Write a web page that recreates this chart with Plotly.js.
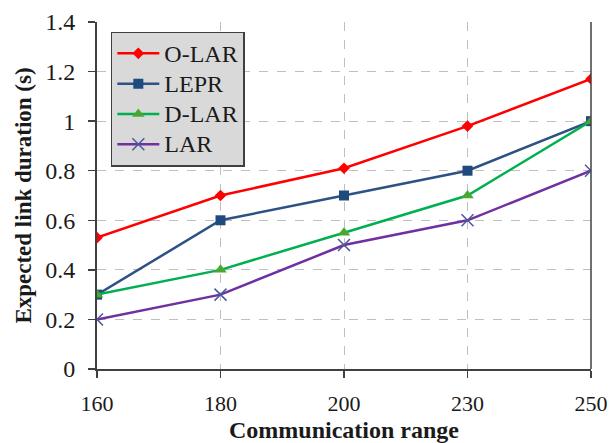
<!DOCTYPE html>
<html><head><meta charset="utf-8">
<script src="https://cdn.plot.ly/plotly-3.0.1.min.js"></script>
<style>html,body{margin:0;padding:0;background:#fff}#c{width:611px;height:443px}</style>
</head><body><div id="c"></div>
<script>
var ranges = ['160', '180', '200', '230', '250'];
var olar = [0.53, 0.70, 0.81, 0.98, 1.17];
var lepr = [0.30, 0.60, 0.70, 0.80, 1.00];
var dlar = [0.30, 0.40, 0.55, 0.70, 1.00];
var lar  = [0.20, 0.30, 0.50, 0.60, 0.80];
var yTicks = [0, 0.2, 0.4, 0.6, 0.8, 1, 1.2, 1.4];
var yTickText = ['0', '0.2', '0.4', '0.6', '0.8', '1', '1.2', '1.4'];
var names = ['O-LAR', 'LEPR', 'D-LAR', 'LAR'];

var serif = 'Liberation Serif, Times New Roman, serif';
function lbl(s) { return '<span style="font-size:24px">' + s + '</span>'; }
var traces = [
  {x: ranges, y: olar, name: lbl(names[0]), mode: 'lines+markers', line: {color: '#ff0000', width: 2.5}, marker: {symbol: 'diamond', size: 9, color: '#ff0000'}},
  {x: ranges, y: lepr, name: lbl(names[1]), mode: 'lines+markers', line: {color: '#2e5183', width: 2.5}, marker: {symbol: 'square', size: 10, color: '#1f4a7e'}},
  {x: ranges, y: dlar, name: lbl(names[2]), mode: 'lines+markers', line: {color: '#00b050', width: 2.5}, marker: {symbol: 'triangle-up', size: 11, color: '#4aa832'}},
  {x: ranges, y: lar, name: lbl(names[3]), mode: 'lines+markers', line: {color: '#7030a0', width: 2.5}, marker: {symbol: 'x-thin', size: 12, color: '#4a5a9a', line: {color: '#4a5a9a', width: 1.5}}}
];
var layout = {
  width: 611, height: 443,
  margin: {l: 97, r: 20, t: 22, b: 74},
  paper_bgcolor: '#fff', plot_bgcolor: '#fff',
  font: {family: serif, color: '#1a1a1a', size: 22},
  showlegend: true,
  legend: {x: 0.028, y: 0.972, xanchor: 'left', yanchor: 'top', bgcolor: '#d9d9d9', bordercolor: '#404040', borderwidth: 1.5, font: {family: serif, size: 21, color: '#1a1a1a'}, tracegroupgap: 0, itemwidth: 42},
  xaxis: {
    type: 'category', range: [0, 4], showgrid: true, gridcolor: '#bfbfbf', griddash: 'dash', gridwidth: 1,
    showline: true, linecolor: '#404040', linewidth: 2, ticks: 'outside', ticklen: 7, tickcolor: '#404040', tickwidth: 1.5,
    tickfont: {family: serif, size: 22}, zeroline: false, ticklabelstandoff: 7,
    title: {text: '<b>Communication range</b>', font: {family: serif, size: 24}, standoff: 17}
  },
  yaxis: {
    range: [0, 1.4], tickvals: yTicks, ticktext: yTickText, showgrid: true, gridcolor: '#bfbfbf', griddash: 'dash', gridwidth: 1,
    showline: true, linecolor: '#404040', linewidth: 2, ticks: 'outside', ticklen: 7, tickcolor: '#404040', tickwidth: 1.5,
    tickfont: {family: serif, size: 24}, zeroline: false, ticklabelstandoff: 8,
    title: {text: '<b>Expected link duration (s)</b>', font: {family: serif, size: 23}, standoff: 7}
  },
  shapes: [{type: 'line', xref: 'paper', yref: 'paper', x0: 1, x1: 1, y0: 0, y1: 1, line: {color: '#404040', width: 1.5}}]
};
Plotly.newPlot('c', traces, layout, {displayModeBar: false, staticPlot: true});
</script></body></html>
